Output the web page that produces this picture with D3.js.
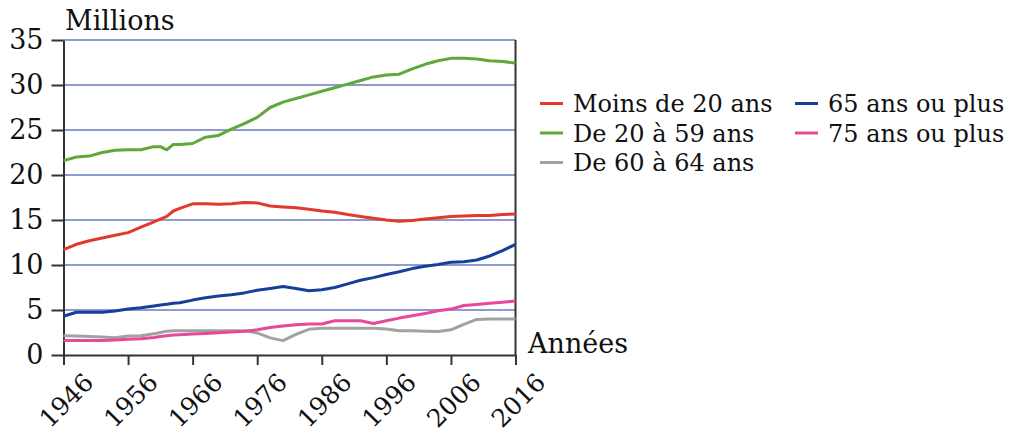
<!DOCTYPE html>
<html>
<head>
<meta charset="utf-8">
<script src="https://cdn.jsdelivr.net/npm/d3@7"></script>
<style>
  body { margin: 0; background: #fff; }
  text { font-family: "DejaVu Serif", serif; fill: #111; }
</style>
</head>
<body>
<div class="chart"></div>
<script>
// data (millions of people)
const years = [1946, 1948, 1950, 1952, 1954, 1956, 1958, 1960, 1961, 1962, 1963, 1964, 1966, 1968, 1970, 1972, 1974, 1976, 1978, 1980,
               1982, 1984, 1986, 1988, 1990, 1992, 1994, 1996, 1998, 2000, 2002, 2004, 2006, 2008, 2010, 2012, 2014, 2016];

const moins20 = [11.7, 12.3, 12.7, 13.0, 13.3, 13.6, 14.2, 14.8, 15.1, 15.4, 16.0, 16.3, 16.8, 16.8, 16.75, 16.8, 16.95, 16.9, 16.55, 16.45,
                 16.35, 16.2, 16.0, 15.85, 15.6, 15.4, 15.2, 15.0, 14.85, 14.95, 15.1, 15.25, 15.4, 15.45, 15.5, 15.5, 15.6, 15.67];
const de20a59 = [21.6, 22.0, 22.1, 22.5, 22.75, 22.8, 22.8, 23.15, 23.15, 22.8, 23.4, 23.4, 23.5, 24.2, 24.4, 25.1, 25.7, 26.4, 27.5, 28.1,
                 28.5, 28.9, 29.3, 29.7, 30.1, 30.5, 30.9, 31.1, 31.2, 31.8, 32.3, 32.7, 32.96, 32.96, 32.9, 32.7, 32.6, 32.45];
const de60a64 = [2.15, 2.1, 2.05, 2.0, 1.93, 2.1, 2.15, 2.35, 2.5, 2.65, 2.7, 2.7, 2.7, 2.7, 2.7, 2.7, 2.7, 2.45, 1.9, 1.6,
                 2.3, 2.85, 2.96, 2.96, 2.96, 2.96, 2.96, 2.9, 2.7, 2.7, 2.65, 2.6, 2.8, 3.4, 3.95, 4.0, 4.0, 4.0];
const plus65 = [4.3, 4.75, 4.75, 4.75, 4.9, 5.1, 5.25, 5.45, 5.56, 5.65, 5.74, 5.8, 6.1, 6.35, 6.55, 6.7, 6.9, 7.2, 7.4, 7.6,
                7.4, 7.15, 7.25, 7.5, 7.9, 8.3, 8.6, 8.95, 9.25, 9.6, 9.85, 10.05, 10.3, 10.37, 10.55, 11.0, 11.6, 12.3];
const plus75 = [1.6, 1.6, 1.6, 1.6, 1.68, 1.75, 1.8, 1.95, 2.05, 2.15, 2.22, 2.25, 2.33, 2.4, 2.48, 2.56, 2.65, 2.8, 3.05, 3.22,
                3.35, 3.44, 3.44, 3.8, 3.81, 3.8, 3.5, 3.8, 4.1, 4.35, 4.6, 4.92, 5.1, 5.5, 5.62, 5.75, 5.87, 6.0];

const seriesNames = ["Moins de 20 ans", "De 20 à 59 ans", "De 60 à 64 ans", "65 ans ou plus", "75 ans ou plus"];
const seriesValues = [moins20, de20a59, de60a64, plus65, plus75];
const seriesColors = ["#e2392b", "#5ea83c", "#a2a2a2", "#173f99", "#e8479b"];

const yTicks = [0, 5, 10, 15, 20, 25, 30, 35];
const xTicks = [1946, 1956, 1966, 1976, 1986, 1996, 2006, 2016];

// chart
const W = 1020, H = 436;
const margin = {top: 40, left: 63.5, right: 504.5, bottom: 81};

const svg = d3.select(".chart").append("svg")
    .attr("width", W)
    .attr("height", H);

const xScale = d3.scaleLinear()
    .domain([1946, 2016])
    .range([margin.left, W - margin.right]);

const yScale = d3.scaleLinear()
    .domain([0, 35])
    .range([H - margin.bottom, margin.top]);

// gridlines
svg.append("g")
    .selectAll("line")
    .data(yTicks.slice(1))
    .join("line")
    .attr("x1", xScale(1946))
    .attr("x2", xScale(2016))
    .attr("y1", d => yScale(d))
    .attr("y2", d => yScale(d))
    .attr("stroke", "#8e9bd0")
    .attr("stroke-width", 2);

// right border
svg.append("line")
    .attr("x1", xScale(2016)).attr("x2", xScale(2016))
    .attr("y1", yScale(35)).attr("y2", yScale(0))
    .attr("stroke", "#333")
    .attr("stroke-width", 2);

// axes
const yAxis = d3.axisLeft(yScale)
    .tickValues(yTicks)
    .tickSize(12)
    .tickSizeOuter(0)
    .tickPadding(8);

const xAxis = d3.axisBottom(xScale)
    .tickValues(xTicks)
    .tickFormat(d3.format("d"))
    .tickSize(10)
    .tickSizeOuter(0);

const yAxisG = svg.append("g")
    .attr("transform", `translate(${margin.left},0)`)
    .call(yAxis);

yAxisG.selectAll("text")
    .attr("font-size", 27)
    .attr("font-family", "DejaVu Serif");

const xAxisG = svg.append("g")
    .attr("transform", `translate(0,${yScale(0)})`)
    .call(xAxis);

xAxisG.selectAll("text")
    .attr("font-size", 25)
    .attr("font-family", "DejaVu Serif")
    .attr("text-anchor", "end")
    .attr("dy", 0)
    .attr("y", 0)
    .attr("transform", "translate(31,29) rotate(-45)");

svg.selectAll(".domain, .tick line")
    .attr("stroke", "#333")
    .attr("stroke-width", 2);

// lines
const line = d3.line()
    .x((d, i) => xScale(years[i]))
    .y(d => yScale(d));

svg.append("g")
    .selectAll("path")
    .data(seriesValues)
    .join("path")
    .attr("d", d => line(d))
    .attr("fill", "none")
    .attr("stroke", (d, i) => seriesColors[i])
    .attr("stroke-width", 3)
    .attr("stroke-linejoin", "round");

// axis titles
svg.append("text")
    .attr("x", 65)
    .attr("y", 30)
    .attr("font-size", 27)
    .text("Millions");

svg.append("text")
    .attr("x", 528)
    .attr("y", 353)
    .attr("font-size", 27)
    .text("Années");

// legend
const legendPos = [[540, 112], [540, 141.5], [540, 171], [795, 112], [795, 141.5]];

const legend = svg.append("g")
    .selectAll("g")
    .data(seriesNames)
    .join("g")
    .attr("transform", (d, i) => `translate(${legendPos[i][0]},${legendPos[i][1]})`);

legend.append("line")
    .attr("x1", 0).attr("x2", 23)
    .attr("y1", -8.5).attr("y2", -8.5)
    .attr("stroke", (d, i) => seriesColors[i])
    .attr("stroke-width", 3);

legend.append("text")
    .attr("x", 33)
    .attr("font-size", 24)
    .text(d => d);
</script>
</body>
</html>
